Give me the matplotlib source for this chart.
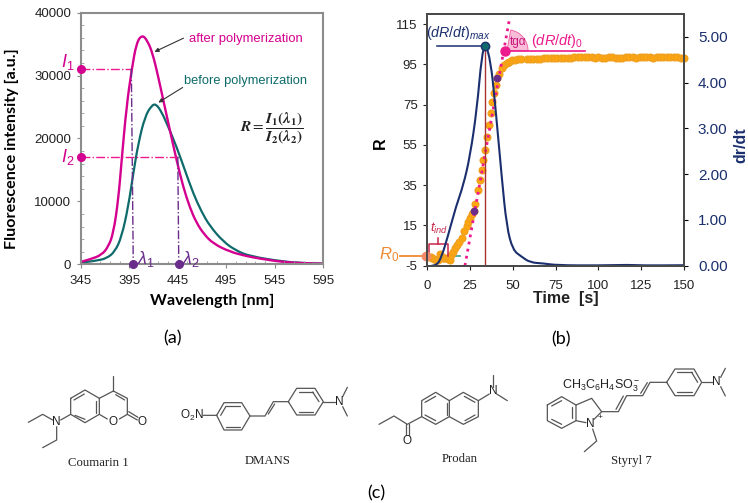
import matplotlib
matplotlib.use('Agg')
import matplotlib.pyplot as plt
from matplotlib.patches import PathPatch, Wedge
from matplotlib.path import Path

plt.rcParams['font.family'] = ['Liberation Sans', 'DejaVu Sans']
plt.rcParams['axes.unicode_minus'] = False
plt.rcParams['mathtext.fontset'] = 'custom'
plt.rcParams['mathtext.rm'] = 'Liberation Sans'
plt.rcParams['mathtext.it'] = 'Liberation Sans:italic'
plt.rcParams['mathtext.bf'] = 'Liberation Sans:bold'

PINK = '#d4008f'
TEAL = '#0f6b6b'
PURPLE = '#6b2d8b'
NAVY = '#1b2f6e'
ORANGE = '#ffa60d'
HOT = '#ec1a8c'
BOND = '#555555'

# panel (a)
wl_after = [345.7, 354.3, 366.3, 373.2, 378.4, 383.5, 387, 392, 397.3, 402.4, 408.3, 413.8, 419, 424.8, 430,
            436.8, 443.7, 450.6, 457.5, 464.3, 472, 481.5, 498.7, 516, 529.7, 554, 575, 595]
int_after = [416, 787, 1476, 2800, 4920, 10200, 16570, 25050, 30875, 35300, 36500, 35500, 33520, 29815, 26100,
             21340, 16570, 12300, 9000, 6600, 4800, 3300, 2000, 1300, 900, 350, 180, 100]
wl_before = [345.7, 361.2, 371.5, 380, 387, 393.8, 399, 404.2, 411, 417.9, 422.4, 428.2, 435.1, 443.7, 452.3,
             460.9, 469.5, 478, 492, 505, 519, 554, 575, 595]
int_before = [260, 575, 950, 2000, 4390, 9160, 14450, 19220, 23460, 25250, 25500, 24250, 21870, 18690, 14980,
              11280, 8360, 6100, 3600, 2200, 1300, 420, 200, 100]
wl_ticks = [345, 395, 445, 495, 545, 595]
int_ticks = [0, 10000, 20000, 30000, 40000]
lam_1, lam_2 = 399, 446
i_1, i_2 = 31100, 17100

# panel (b)
time_r = [-1, 1, 2, 3, 4, 5, 6.5, 7.4, 8, 9, 10, 11, 12, 13, 14, 15, 16.3, 17.5, 18.8, 20, 21.5, 23, 24, 25, 26,
          27, 28, 29.4, 30.8, 31.8, 32.7, 34, 35, 35.8, 37, 38, 39, 40, 41, 42, 43.5, 45, 46.4, 48, 49.3, 51, 53,
          55, 58, 60, 62, 64, 66, 68, 70, 72, 74, 76, 78, 80, 82, 84, 86, 88, 90, 92, 94, 96, 98, 100, 102, 104,
          106, 108, 110, 112, 114, 116, 118, 120, 122, 124, 126, 128, 130, 132, 134, 136, 138, 140, 142, 144,
          146, 148, 150]
r_vals = [-0.4, -0.5, -0.7, -1, -1.5, -2, -2, 1, -0.6, -1, -1.2, -1, -1.5, -2, 0.5, 2, 4, 5.5, 7, 9, 12, 14.5, 16.5,
          18.6, 20.5, 22, 25.7, 32.7, 37.6, 42.5, 47.6, 52.5, 59, 65, 70.7, 76.5, 81, 84.8, 88, 90, 93, 94.5, 95.5,
          96.2, 97, 97.3, 97.5, 97.7, 97.8, 97.8, 97.7, 97.7, 97.9, 98.1, 98, 98.2, 98.3, 98.1, 98.2, 98.3, 98.2,
          98.3, 98.4, 98.5, 98.5, 98.4, 98.5, 98.4, 98.3, 98.4, 98.2, 98.3, 98.4, 98.5, 98.3, 98.2, 98.3, 98.4,
          98.5, 98.4, 98.3, 98.4, 98.5, 98.6, 98.4, 98.3, 98.4, 98.6, 98.7, 98.6, 98.5, 98.4, 98.4, 98.3, 98.2]
time_rate = [2.5, 5.5, 8.4, 12, 16.8, 21, 25, 29, 31.8, 34, 37, 39.5, 43.5, 46.4, 50, 55, 60, 68, 75.6, 100, 118, 125, 150]
rate_vals = [0, 0, 0.2, 0.64, 1.3, 1.75, 2.4, 3.43, 4.6, 4.85, 4.47, 3.6, 1.93, 0.85, 0.34, 0.2, 0.07, 0.05, 0.01, 0.005, 0.02, 0.005, 0.01]
time_ticks = [0, 25, 50, 75, 100, 125, 150]
r_ticks = [-5, 15, 35, 55, 75, 95, 115]
rate_ticks = [0, 1, 2, 3, 4, 5]
t_max, rate_max = 34, 4.8
tangent_t, tangent_r = [22, 47.9], [-5, 117]

fig = plt.figure(figsize=(7.48, 5.03), dpi=100)


def panel(left, top, right, bottom):
    return fig.add_axes([left / 748, 1 - bottom / 503, (right - left) / 748, (bottom - top) / 503])


def smooth(ax, xs, ys, **kw):
    # quadratic segments between read points so the peaks stay round
    pts = list(zip(xs, ys))
    verts = [pts[0]]
    codes = [Path.MOVETO]
    for p, q in zip(pts[1:-1], pts[2:]):
        verts += [p, ((p[0] + q[0]) / 2, (p[1] + q[1]) / 2)]
        codes += [Path.CURVE3, Path.CURVE3]
    verts.append(pts[-1])
    codes.append(Path.LINETO)
    ax.add_patch(PathPatch(Path(verts, codes), fc='none', **kw))


# ---- (a)
ax = panel(81, 12.7, 323, 264.3)
smooth(ax, wl_before, int_before, ec=TEAL, lw=1.6)
smooth(ax, wl_after, int_after, ec=PINK, lw=1.7)
ax.plot([345, lam_1 - 2], [i_1, i_1], color=HOT, lw=1, ls='-.')
ax.plot([lam_1 - 2, lam_1], [i_1, 0], color=PURPLE, lw=1, ls='-.')
ax.plot([345, lam_2 - 1], [i_2, i_2], color=HOT, lw=1, ls='-.')
ax.plot([lam_2 - 1, lam_2], [i_2, 0], color=PURPLE, lw=1, ls='-.')
ax.plot([345, 345], [i_1, i_2], 'o', color=PINK, ms=5.5, clip_on=False, zorder=5)
ax.plot([lam_1, lam_2], [0, 0], 'o', color=PURPLE, ms=5.5, clip_on=False, zorder=5)
ax.set_xlim(345, 595)
ax.set_ylim(0, 40000)
ax.set_xticks(wl_ticks)
ax.set_xticks(range(345, 596, 10), minor=True)
ax.set_yticks(int_ticks)
ax.set_yticks(range(0, 40001, 2000), minor=True)
ax.tick_params(labelsize=9.5, colors='#222222', length=3, color='#888888')
ax.tick_params(axis='x', pad=5)
ax.tick_params(axis='y', pad=4)
ax.tick_params(which='minor', direction='in', length=2, color='#999999')
for s in ax.spines.values():
    s.set_color('#8c8c8c')
    s.set_linewidth(1.5)

# ---- (b)
ax2 = panel(427.3, 14, 684, 265.7)
ax2.set_xlim(0, 150)
ax2.set_ylim(-5, 120)
ax2.plot(time_r, r_vals, 'o', color=ORANGE, mec='#f0a020', ms=4.8, clip_on=False, zorder=4)
ax2.plot(tangent_t, tangent_r, color=HOT, lw=2, ls=(0, (1, 1.6)), clip_on=False, zorder=5)
ax2.plot([27, 41], [22, 88], 'o', color=PURPLE, ms=4.5, zorder=6)
ax2.plot([45.3], [101.5], 'o', color=HOT, ms=6.5, zorder=6)
ax2.plot([45.3, 92], [101.5, 101.5], color=HOT, lw=1.2, zorder=5)
ax2.plot([-1], [-0.4], 'o', color='#f58a6a', ms=6, clip_on=False, zorder=6)
ax2.plot([-16, -1], [-0.4, -0.4], color='#f08a30', lw=1.3, clip_on=False)
ax2.plot([16, 19], [-0.4, -0.4], color='#4aa59a', lw=1.3)
ax2.plot([1, 1, 12, 12], [-0.4, 6, 6, -0.4], color='#c8254a', lw=1.1, zorder=5)
ax2.plot([6.5, 6.5], [6, 9], color='#c8254a', lw=1.1)
ax2.set_xticks(time_ticks)
ax2.set_yticks(r_ticks)
ax2.tick_params(labelsize=9.5, colors='#222222', length=3)
ax2.tick_params(axis='x', pad=7)
ax2.tick_params(axis='y', pad=4)
ax2.set_zorder(2)
ax2.patch.set_visible(False)

ax3 = ax2.twinx()
ax3.set_ylim(0, 5.5)
smooth(ax3, time_rate, rate_vals, ec=NAVY, lw=1.5)
ax3.plot([t_max, t_max], [0, rate_max], color='#a83232', lw=1)
ax3.plot([5.5, t_max], [rate_max, rate_max], color=NAVY, lw=1.1)
ax3.plot([t_max], [rate_max], 'o', color=TEAL, mec=NAVY, ms=6, zorder=6)
ax3.set_yticks(rate_ticks)
ax3.set_yticklabels(['%.2f' % v for v in rate_ticks], fontsize=11, color=NAVY)
ax3.tick_params(axis='y', pad=7, length=3)
for a in (ax2, ax3):
    for s in a.spines.values():
        s.set_color('#4a4a4a')
        s.set_linewidth(1.4)

# ---- text and structures on a pixel overlay
ov = fig.add_axes([0, 0, 1, 1])
ov.set_xlim(0, 748)
ov.set_ylim(503, 0)
ov.axis('off')


def label(x, y, s, **kw):
    kw.setdefault('ha', 'center')
    kw.setdefault('va', 'center')
    ov.text(x, y, s, **kw)


label(12, 149, 'Fluorescence intensity [a.u.]', rotation=90, family='Lato', weight='bold', fontsize=11.6)
label(212, 301, 'Wavelength [nm]', family='Lato', weight='bold', fontsize=11.6)
label(189, 39, 'after polymerization', ha='left', color=PINK, fontsize=9.4)
label(184, 81, 'before polymerization', ha='left', color=TEAL, fontsize=9.3)
for xy, xytext in [((152, 53), (186, 37)), ((156, 104), (185, 86))]:
    ov.annotate('', xy=xy, xytext=xytext, arrowprops=dict(arrowstyle='-|>', color='#333333', lw=0.8, mutation_scale=6))
label(68, 62, r'$I_1$', color=PINK, fontsize=13)
label(68, 157, r'$I_2$', color=PINK, fontsize=13)
label(146, 259, r'$\lambda_1$', color=PURPLE, fontsize=13)
label(191, 259, r'$\lambda_2$', color=PURPLE, fontsize=13)
label(272, 128, r'$\mathbfit{R}=\dfrac{\mathbfit{I}_{\mathbf{1}}\mathbf{(}\mathbfit{\lambda}_{\mathbf{1}}\mathbf{)}}'
      r'{\mathbfit{I}_{\mathbf{2}}\mathbf{(}\mathbfit{\lambda}_{\mathbf{2}}\mathbf{)}}$',
      math_fontfamily='stix', fontsize=11, color='#222222')

label(380, 143, 'R', rotation=90, weight='bold', fontsize=11.5)
label(741, 145, 'dr/dt', rotation=90, weight='bold', fontsize=11.5, color=NAVY)
label(566, 299, 'Time  [s]', weight='bold', fontsize=11.5, color='#222222')
label(458, 33, r'$(dR/dt)_{max}$', color=NAVY, fontsize=10.3)
label(557, 41, r'$(dR/dt)_{0}$', color=HOT, fontsize=10.5)
label(518, 42, 'tgα', color='#c8157a', fontsize=8.5)
label(389, 255, r'$R_0$', color='#f08a30', fontsize=12)
label(439, 228, r'$t_{ind}$', color='#c8254a', fontsize=9.5)
ov.add_patch(Wedge((507, 50.7), 21, -80, 0, fc='#f9bcd9', ec='#ee6aa8', lw=0.7, zorder=0))

label(173, 338, '(a)', family='Lato', fontsize=13)
label(561, 339, '(b)', family='Lato', fontsize=13)
label(376, 493, '(c)', family='Lato', fontsize=13)

# name captions under the molecules
for x, y, s in [(98, 463, 'Coumarin 1'), (268, 461, 'DMANS'), (460, 459, 'Prodan'), (631, 461, 'Styryl 7')]:
    label(x, y, s, family='Liberation Serif', fontsize=9.2, color='#222222')

coumarin = [
    [(152, 55), (195, 30), (238, 55), (238, 103), (195, 128), (152, 103), (152, 55)],
    [(162, 60), (193, 42)], [(228, 62), (228, 98)], [(165, 106), (195, 118)],
    [(238, 55), (280, 33), (322, 55), (322, 103), (298, 117)], [(262, 117), (238, 103)],
    [(287, 44), (314, 60)], [(322, 103), (352, 120)], [(326, 95), (354, 112)], [(280, 33), (280, -12)],
    [(152, 103), (122, 120)], [(98, 120), (68, 103), (25, 127)], [(110, 140), (110, 180), (68, 203)],
]
dmans = [
    [(550, 106), (590, 106), (612, 68), (665, 68), (690, 108), (665, 150), (612, 150), (590, 106)],
    [(618, 79), (660, 79)], [(618, 140), (660, 140)], [(602, 106), (618, 79)],
    [(690, 108), (735, 108), (760, 65), (805, 65)], [(745, 102), (764, 72)],
    [(805, 65), (830, 25), (885, 25), (910, 65), (885, 105), (830, 105), (805, 65)],
    [(838, 36), (878, 36)], [(838, 95), (878, 95)], [(897, 65), (878, 36)],
    [(910, 65), (945, 65)], [(968, 50), (982, 22)], [(968, 80), (982, 108)],
]
prodan = [
    [(238, 62), (197, 37), (155, 62), (155, 110), (197, 133), (238, 110)],
    [(238, 62), (280, 37), (325, 62), (325, 110), (280, 133), (238, 110), (238, 62)],
    [(165, 67), (197, 49)], [(165, 105), (197, 122)], [(230, 68), (230, 105)],
    [(283, 49), (315, 67)], [(315, 105), (285, 122)],
    [(325, 62), (358, 42)], [(380, 42), (412, 62)], [(370, 20), (370, -15)],
    [(155, 110), (112, 133), (72, 108), (27, 133)], [(107, 133), (107, 165)], [(117, 133), (117, 165)],
]
styryl = [
    [(532, 75), (575, 50), (618, 75), (618, 122), (575, 145), (532, 122), (532, 75)],
    [(545, 78), (575, 62)], [(607, 80), (607, 115)], [(545, 118), (575, 133)],
    [(618, 75), (665, 55), (695, 95), (672, 118)], [(648, 128), (618, 122)],
    [(668, 147), (680, 183), (643, 215)],
    [(695, 95), (745, 95), (770, 47), (818, 47), (840, 7), (890, 7)],
    [(738, 88), (760, 48)], [(812, 40), (832, 8)],
    [(890, 7), (915, 47), (972, 47), (995, 7), (972, -33), (915, -33), (890, 7)],
    [(922, 37), (965, 37)], [(922, -23), (965, -23)], [(983, 7), (965, -23)],
    [(995, 7), (1028, 7)], [(1052, 20), (1066, 48)], [(1052, -8), (1066, -35)],
]
for bonds, ox in [(coumarin, 20), (dmans, 20), (prodan, 370), (styryl, 370)]:
    for seg in bonds:
        ov.plot([ox + p[0] / 3 for p in seg], [380 + p[1] / 3 for p in seg], color=BOND, lw=0.9, solid_capstyle='round')

atoms = [(110, 127, 'N', 20), (280, 125, 'O', 20), (366, 127, 'O', 20), (515, 106, r'O$_2$N', 20), (958, 65, 'N', 20),
         (370, 33, 'N', 370), (112, 183, 'O', 370), (660, 132, 'N', 370), (690, 113, '+', 370), (1040, 7, 'N', 370)]
for zx, zy, s, ox in atoms:
    label(ox + zx / 3, 380 + zy / 3, s, fontsize=8.5 if s != '+' else 6, color='#222222')
label(562, 386, r'CH$_3$C$_6$H$_4$SO$_3^-$', ha='left', fontsize=9, color='#222222')

fig.savefig('out.png', dpi=100)
